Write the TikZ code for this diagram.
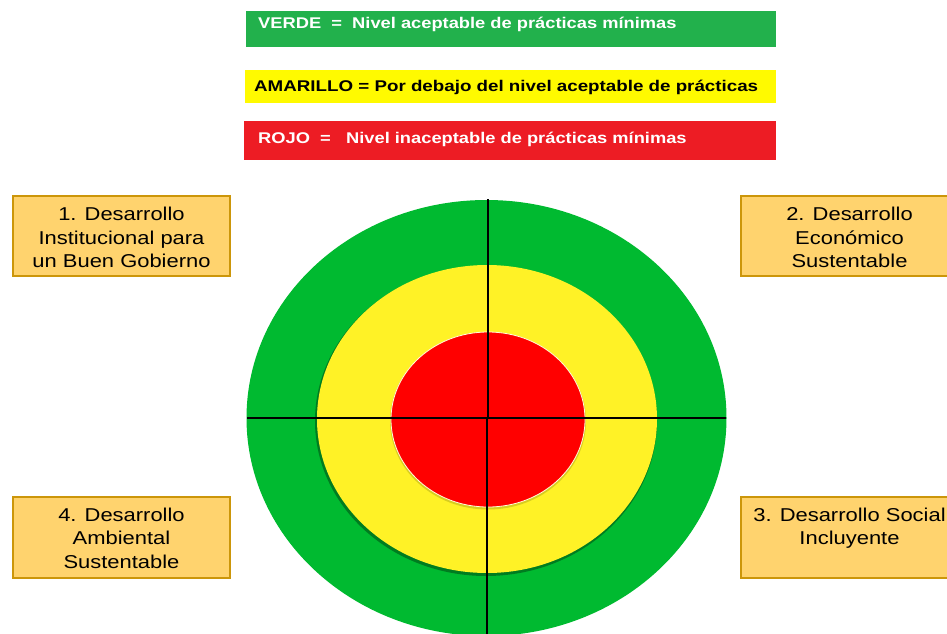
\documentclass[tikz,border=0pt]{standalone}
\usepackage{fontspec}
\setmainfont{Liberation Sans}
\usepackage{graphicx}
\definecolor{lgreen}{RGB}{34,177,76}
\definecolor{lyellow}{RGB}{255,250,0}
\definecolor{lred}{RGB}{237,28,36}
\definecolor{cgreen}{RGB}{0,186,48}
\definecolor{cyellow}{RGB}{255,242,38}
\definecolor{cred}{RGB}{255,0,0}
\definecolor{boxfill}{RGB}{255,211,110}
\definecolor{boxline}{RGB}{204,150,10}
\tikzset{
  legbox/.style={inner sep=0pt, minimum width=#1},
  legtext/.style={anchor=base west, inner sep=0pt, font=\fontsize{15.5}{18}\selectfont\bfseries},
  sidebox/.style={draw=boxline, line width=2pt, fill=boxfill, inner sep=0pt, minimum width=217pt, minimum height=80pt},
  sidetext/.style={inner sep=0pt, font=\fontsize{18.6}{23.5}\selectfont},
  cross/.style={line width=2.6pt, black},
}
\newcommand{\sidelines}[1]{\scalebox{1.18}[1]{\begin{tabular}{@{}c@{}}#1\end{tabular}}}
\newcommand{\legline}[2][1.19]{\scalebox{#1}[1]{#2}}
\begin{document}
\begin{tikzpicture}[x=1pt,y=-1pt]
\useasboundingbox (0,0) rectangle (947,634);
\begin{scope}
\clip (0,0) rectangle (947,634);
% legend
\node[legbox=530pt, minimum height=36pt, fill=lgreen] (verde) at (511,29) {};
\node[legtext, text=white] (verdet) at (258,28.5) {\legline[1.18]{VERDE~~=~~Nivel aceptable de prácticas mínimas}};
\node[legbox=531pt, minimum height=33pt, fill=lyellow] (amarillo) at (510.5,86.5) {};
\node[legtext, text=black] (amarillot) at (254,91) {\legline[1.21]{AMARILLO = Por debajo del nivel aceptable de prácticas}};
\node[legbox=532pt, minimum height=39pt, fill=lred] (rojo) at (510,140.5) {};
\node[legtext, text=white] (rojot) at (258,143) {\legline[1.18]{ROJO~~=~~~Nivel inaceptable de prácticas mínimas}};
% target
\fill[cgreen] (486.5,418) ellipse [x radius=240pt, y radius=218pt];
\fill[black!55!cgreen, opacity=0.6] (486,421) ellipse [x radius=171pt, y radius=155pt];
\fill[cyellow] (487,419) ellipse [x radius=170pt, y radius=154pt];
\fill[black!30!cyellow, opacity=0.5] (488,421) ellipse [x radius=98pt, y radius=88.5pt];
\fill[cred, draw=white!85!yellow, line width=0.8pt] (488,419.5) ellipse [x radius=97pt, y radius=87.5pt];
\coordinate (vtop) at (488,199);
\coordinate (vmid) at (488,418);
\coordinate (vmid2) at (487,418);
\coordinate (vbot) at (487,640);
\coordinate (hl) at (247,418);
\coordinate (hr) at (726,418);
\draw[cross] (vtop) -- (vmid);
\draw[cross] (vmid2) -- (vbot);
\draw[cross] (hl) -- (hr);
% side boxes
\node[sidebox] (b1) at (121.5,236) {};
\node[sidetext] (t1) at (121.5,239.5) {\sidelines{1. Desarrollo\\Institucional para\\un Buen Gobierno}};
\node[sidebox] (b2) at (849.5,236) {};
\node[sidetext] (t2) at (849.5,239.5) {\sidelines{2. Desarrollo\\Económico\\Sustentable}};
\node[sidebox, minimum height=81pt] (b4) at (121.5,537.5) {};
\node[sidetext] (t4) at (121.5,540) {\sidelines{4. Desarrollo\\Ambiental\\Sustentable}};
\node[sidebox, minimum height=81pt] (b3) at (849.5,537.5) {};
\node[sidetext] (t3) at (849.5,540) {\sidelines{3. Desarrollo Social\\Incluyente\\\strut}};
\end{scope}
\end{tikzpicture}
\end{document}
